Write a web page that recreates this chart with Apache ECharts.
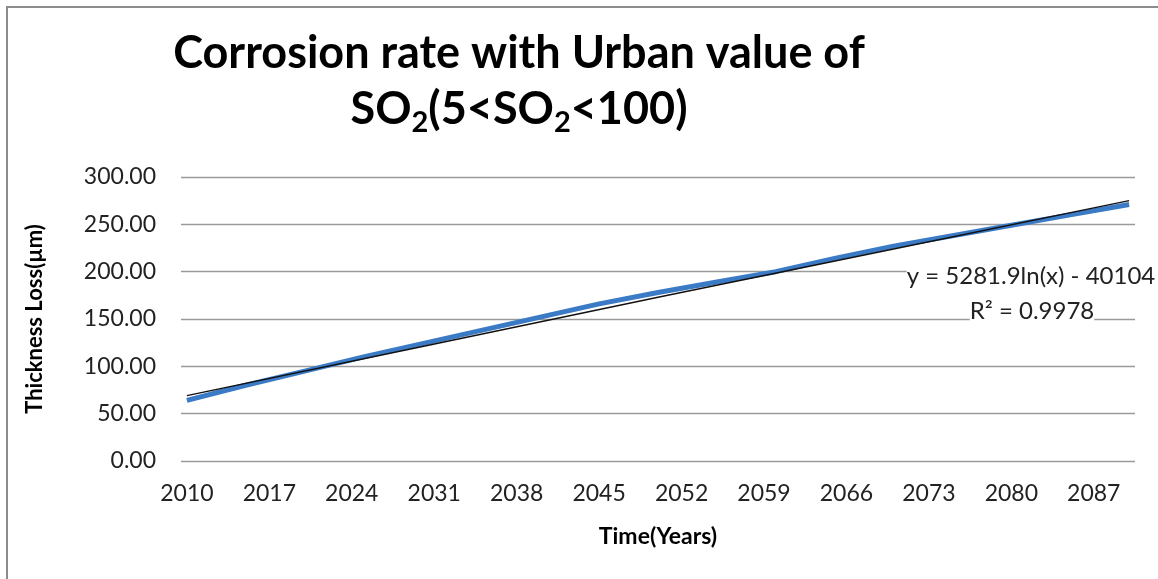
<!DOCTYPE html>
<html>
<head>
<meta charset="utf-8">
<script src="https://cdn.jsdelivr.net/npm/echarts@6/dist/echarts.min.js"></script>
<style>
  html, body { margin: 0; padding: 0; background: #fff; }
  #chart { width: 1158px; height: 579px; }
</style>
</head>
<body>
<div id="chart"></div>
<script>
// years on the category axis
const firstYear = 2010
const lastYear = 2090
const years = []
for (let y = firstYear; y <= lastYear; y++) years.push(String(y))

const dataYears = [2010, 2015, 2020, 2025, 2030, 2035, 2040, 2045, 2050, 2055, 2060, 2065, 2070, 2075, 2080, 2085, 2090]
const thicknessLoss = [64, 80, 95, 110, 124, 138, 152, 166, 178, 189, 200, 214, 227, 238, 249, 260, 271]

// log trendline
const trendYears = [2010, 2030, 2050, 2070, 2090]
const trendValues = [69, 121, 173, 224, 275]

const trendEquation = 'y = 5281.9ln(x) - 40104'
const trendR2 = 'R² = 0.9978'

const onCategories = (ys, vals) => {
    const out = years.map(() => null)
    ys.forEach((y, i) => { out[years.indexOf(String(y))] = vals[i] })
    return out
}

const font = 'Lato, "Open Sans", sans-serif'
const chart = echarts.init(document.getElementById('chart'))

const option = {
    backgroundColor: '#fff',
    animation: false,
    title: {
        left: 514,
        top: 20,
        textAlign: 'center',
        text: '{a|Corrosion rate with Urban value of}\n{a|SO}{s|2}{a|(5<SO}{s|2}{a|<100)}',
        textStyle: {
            rich: {
                a: { fontFamily: font, fontWeight: 'bold', fontSize: 45, color: '#000', lineHeight: 56 },
                s: { fontFamily: font, fontWeight: 'bold', fontSize: 29, color: '#000', lineHeight: 56, verticalAlign: 'bottom' }
            }
        }
    },
    grid: { left: 181, right: 23, top: 177, bottom: 118 },
    xAxis: {
        type: 'category',
        data: years,
        boundaryGap: true,
        name: 'Time(Years)',
        nameLocation: 'middle',
        nameGap: 64,
        nameTextStyle: { fontFamily: font, fontWeight: 'bold', fontSize: 23, color: '#000' },
        axisLine: { show: false },
        axisTick: { show: false },
        axisLabel: { interval: 6, margin: 21, fontFamily: font, fontSize: 23, color: '#222' }
    },
    yAxis: {
        type: 'value',
        min: 0,
        max: 300,
        interval: 50,
        name: 'Thickness Loss(µm)',
        nameLocation: 'middle',
        nameGap: 135,
        nameRotate: 90,
        nameTextStyle: { fontFamily: font, fontWeight: 'bold', fontSize: 22, color: '#000' },
        axisLine: { show: false },
        axisTick: { show: false },
        axisLabel: { margin: 25, fontFamily: font, fontSize: 23, color: '#222', formatter: v => v.toFixed(2) },
        splitLine: { lineStyle: { color: '#9a9a9a', width: 1.3 } }
    },
    series: [{
        name: 'Thickness loss',
        type: 'line',
        data: onCategories(dataYears, thicknessLoss),
        connectNulls: true,
        showSymbol: false,
        lineStyle: { color: '#3b7bc6', width: 5 }
    }, {
        name: 'Trendline',
        type: 'line',
        data: onCategories(trendYears, trendValues),
        connectNulls: true,
        showSymbol: false,
        lineStyle: { color: '#111', width: 1.4 }
    }],
    graphic: [{
        type: 'rect',
        shape: { x: 7, y: 7, width: 1160, height: 580 },
        style: { fill: 'none', stroke: '#8c8c8c', lineWidth: 2 }
    }, {
        type: 'text',
        x: 1031, y: 276, z: 10,
        style: { text: trendEquation, font: '24px ' + font, fill: '#222', align: 'center', verticalAlign: 'middle', backgroundColor: '#fff' }
    }, {
        type: 'text',
        x: 1032, y: 311, z: 10,
        style: { text: trendR2, font: '24px ' + font, fill: '#222', align: 'center', verticalAlign: 'middle', backgroundColor: '#fff' }
    }]
}
chart.setOption(option)
</script>
</body>
</html>
